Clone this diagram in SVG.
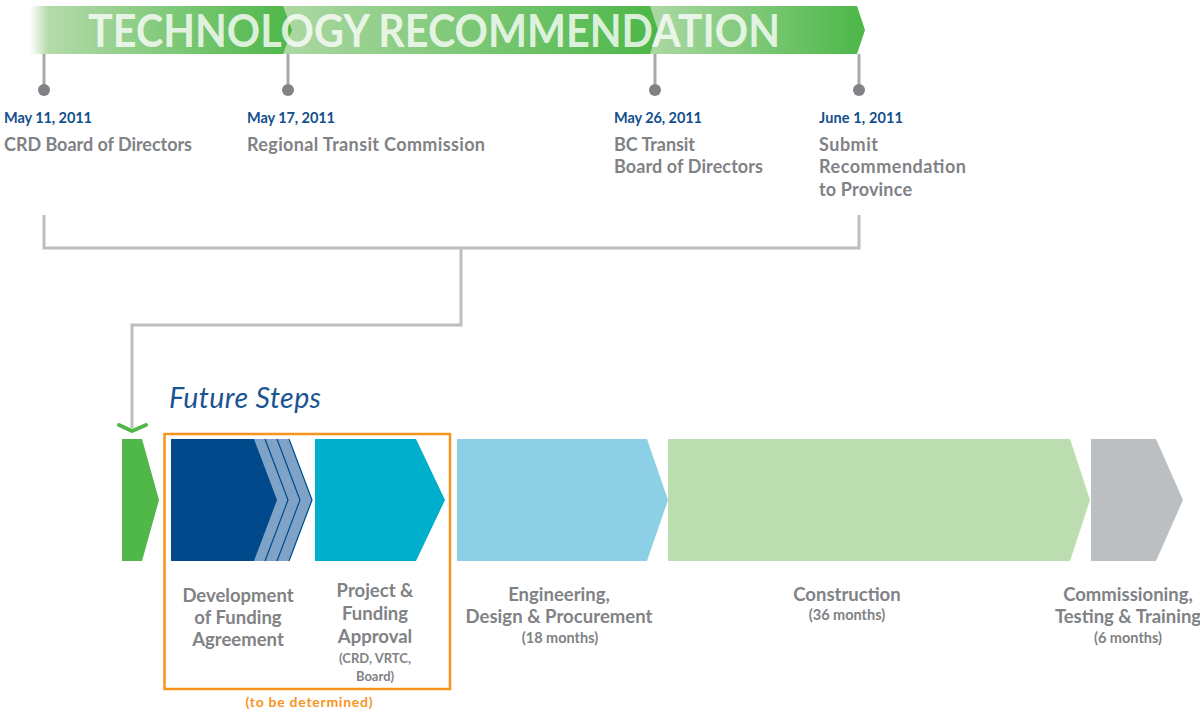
<svg xmlns="http://www.w3.org/2000/svg" width="1200" height="711" viewBox="0 0 1200 711">
  <defs>
    <linearGradient id="gSeg1" gradientUnits="userSpaceOnUse" x1="30" y1="0" x2="292" y2="0">
      <stop offset="0" stop-color="#ffffff"/>
      <stop offset="0.07" stop-color="#b3dbaa"/>
      <stop offset="1" stop-color="#4cb748"/>
    </linearGradient>
    <linearGradient id="gSeg2" gradientUnits="userSpaceOnUse" x1="283" y1="0" x2="658" y2="0">
      <stop offset="0" stop-color="#acd8a3"/>
      <stop offset="1" stop-color="#4cb748"/>
    </linearGradient>
    <linearGradient id="gSeg3" gradientUnits="userSpaceOnUse" x1="650" y1="0" x2="865" y2="0">
      <stop offset="0" stop-color="#acd8a3"/>
      <stop offset="1" stop-color="#4cb748"/>
    </linearGradient>
  </defs>
  <style>
    .date { font-family: Lato, "Liberation Sans", sans-serif; font-weight: 700; font-size: 14.5px; fill: #124f8c; }
    .who { font-family: Lato, "Liberation Sans", sans-serif; font-weight: 700; font-size: 18px; fill: #808285; }
    .step { font-family: Lato, "Liberation Sans", sans-serif; font-weight: 700; font-size: 18.5px; fill: #808285; text-anchor: middle; }
    .note { font-family: Lato, "Liberation Sans", sans-serif; font-weight: 700; font-size: 13px; fill: #808285; text-anchor: middle; }
    .months { font-family: Lato, "Liberation Sans", sans-serif; font-weight: 700; font-size: 14.5px; fill: #808285; text-anchor: middle; }
    .pin-line { stroke: #a7a9ac; stroke-width: 3; }
    .pin-dot { fill: #808285; }
    .link { fill: none; stroke: #bcbec0; stroke-width: 3; stroke-linejoin: miter; }
    .edge { fill: none; stroke: #004a8b; stroke-width: 1.2; }
  </style>

  <!-- Banner: three gradient chevron segments -->
  <g id="banner">
    <polygon points="650,6 857,6 865,30 857,54 650,54" fill="url(#gSeg3)"/>
    <polygon points="283,6 650,6 658,30 650,54 283,54" fill="url(#gSeg2)"/>
    <polygon points="30,6 283,6 292,30 283,54 30,54" fill="url(#gSeg1)"/>
    <text x="88" y="47" textLength="692" lengthAdjust="spacingAndGlyphs" font-family="Lato, 'Liberation Sans', sans-serif" font-weight="700" font-size="45" fill="#ffffff" fill-opacity="0.8">TECHNOLOGY RECOMMENDATION</text>
  </g>

  <!-- Milestone pins -->
  <g id="pins">
    <line class="pin-line" x1="44" y1="54" x2="44" y2="89"/>
    <circle class="pin-dot" cx="44" cy="90" r="6"/>
    <line class="pin-line" x1="288" y1="54" x2="288" y2="89"/>
    <circle class="pin-dot" cx="288" cy="90" r="6"/>
    <line class="pin-line" x1="655" y1="54" x2="655" y2="89"/>
    <circle class="pin-dot" cx="655" cy="90" r="6"/>
    <line class="pin-line" x1="859" y1="54" x2="859" y2="89"/>
    <circle class="pin-dot" cx="859" cy="90" r="6"/>
  </g>

  <!-- Milestones -->
  <g id="m-crd">
    <text class="date" x="4" y="123" textLength="88">May 11, 2011</text>
    <text class="who" x="4" y="151" textLength="188">CRD Board of Directors</text>
  </g>
  <g id="m-rtc">
    <text class="date" x="247" y="123" textLength="88">May 17, 2011</text>
    <text class="who" x="247" y="151" textLength="238">Regional Transit Commission</text>
  </g>
  <g id="m-bct">
    <text class="date" x="614" y="123" textLength="88">May 26, 2011</text>
    <text class="who" x="614" y="151" textLength="81">BC Transit</text>
    <text class="who" x="614" y="173" textLength="149">Board of Directors</text>
  </g>
  <g id="m-prov">
    <text class="date" x="819" y="123" textLength="84">June 1, 2011</text>
    <text class="who" x="819" y="151" textLength="59">Submit</text>
    <text class="who" x="819" y="173" textLength="147">Recommendation</text>
    <text class="who" x="819" y="196" textLength="93">to Province</text>
  </g>

  <!-- Connectors -->
  <g id="connectors">
    <polyline class="link" points="44,215 44,248 859,248 859,215"/>
    <polyline class="link" points="461,248 461,325 132,325 132,428"/>
    <polyline points="119,425 132,431 146,425" fill="none" stroke="#50b848" stroke-width="4" stroke-linecap="round" stroke-linejoin="round"/>
  </g>

  <text x="169" y="408" textLength="152" font-family="Lato, 'Liberation Sans', sans-serif" font-style="italic" font-size="28.5" fill="#1a5493">Future Steps</text>

  <!-- To-be-determined frame -->
  <g id="tbd-frame">
    <rect x="164.5" y="434" width="285.5" height="255" fill="none" stroke="#f7941d" stroke-width="2.5"/>
    <text x="309" y="707" text-anchor="middle" textLength="127" font-family="Lato, 'Liberation Sans', sans-serif" font-weight="700" font-size="14" fill="#f7941d">(to be determined)</text>
  </g>

  <!-- Process chevrons -->
  <g id="start">
    <polygon points="122,439 142,439 159,500 142,561 122,561" fill="#50b848"/>
  </g>

  <g id="funding-agreement">
    <polygon points="171,439 289,439 312,500 289,561 171,561" fill="#7fa3c7"/>
    <polyline class="edge" points="265,439 288,500 265,561"/>
    <polyline class="edge" points="277,439 300,500 277,561"/>
    <polyline class="edge" points="289,439 312,500 289,561"/>
    <polygon points="171,439 254,439 277,500 254,561 171,561" fill="#004a8b"/>
    <text class="step" x="238" y="602">Development</text>
    <text class="step" x="238" y="624">of Funding</text>
    <text class="step" x="238" y="646">Agreement</text>
  </g>

  <g id="project-approval">
    <polygon points="315,439 416,439 445,500 416,561 315,561" fill="#00afcc"/>
    <text class="step" x="375" y="597">Project &amp;</text>
    <text class="step" x="375" y="620">Funding</text>
    <text class="step" x="375" y="643">Approval</text>
    <text class="note" x="375" y="663">(CRD, VRTC,</text>
    <text class="note" x="375" y="681">Board)</text>
  </g>

  <g id="engineering">
    <polygon points="457,439 647,439 668,500 647,561 457,561" fill="#8dd0e6"/>
    <text class="step" x="559" y="601">Engineering,</text>
    <text class="step" x="559" y="623" textLength="187">Design &amp; Procurement</text>
    <text class="months" x="560" y="643">(18 months)</text>
  </g>

  <g id="construction">
    <polygon points="668,439 1070,439 1090,500 1070,561 668,561" fill="#bcddaf"/>
    <text class="step" x="847" y="601">Construction</text>
    <text class="months" x="847" y="620">(36 months)</text>
  </g>

  <g id="commissioning">
    <polygon points="1091,439 1156,439 1183,500 1156,561 1091,561" fill="#bcbfc2"/>
    <text class="step" x="1128" y="601">Commissioning,</text>
    <text class="step" x="1128" y="623">Testing &amp; Training</text>
    <text class="months" x="1128" y="643">(6 months)</text>
  </g>
</svg>
